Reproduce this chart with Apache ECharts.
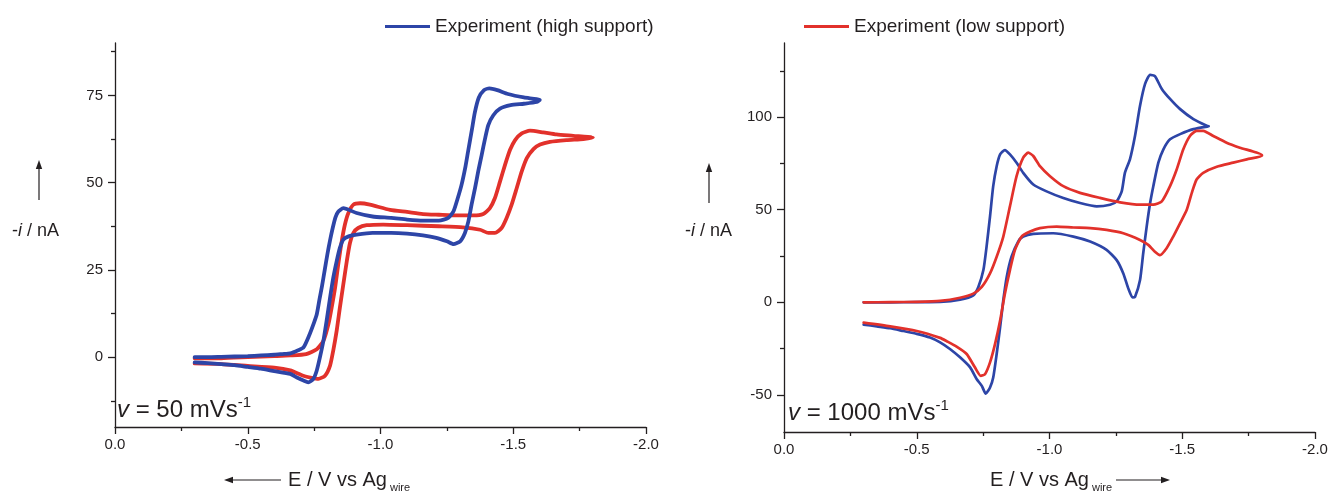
<!DOCTYPE html>
<html>
<head>
<meta charset="utf-8">
<script src="https://cdn.jsdelivr.net/npm/echarts@6/dist/echarts.min.js"></script>
<style>
  html, body { margin: 0; padding: 0; background: #ffffff; }
  #chart { width: 1330px; height: 496px; }
</style>
</head>
<body>
<div id="chart"></div>
<script>
// ---- Cyclic voltammograms: [E / V vs Ag wire, -i / nA] ----

// 50 mV/s, high support electrolyte
const highSupport50Forward = [
  [-0.30, 0.0], [-0.35, 0.0], [-0.40, 0.1], [-0.45, 0.2], [-0.50, 0.3], [-0.55, 0.5],
  [-0.60, 0.7], [-0.63, 0.9], [-0.66, 1.1], [-0.69, 2.0], [-0.71, 2.8], [-0.73, 6.0],
  [-0.75, 10.0], [-0.76, 12.3], [-0.77, 16.5], [-0.78, 20.5], [-0.79, 25.0], [-0.80, 29.5],
  [-0.81, 33.5], [-0.82, 37.0], [-0.83, 40.0], [-0.84, 41.6], [-0.86, 42.7], [-0.91, 41.3],
  [-0.97, 40.3], [-1.04, 39.9], [-1.10, 39.4], [-1.16, 39.1], [-1.22, 39.1], [-1.255, 39.9],
  [-1.275, 41.8], [-1.29, 45.3], [-1.305, 49.3], [-1.32, 54.6], [-1.33, 59.0], [-1.345, 65.5],
  [-1.355, 70.0], [-1.37, 74.3], [-1.39, 76.5], [-1.41, 77.0], [-1.44, 76.5], [-1.48, 75.4],
  [-1.54, 74.4], [-1.60, 73.7]
];
const highSupport50Reverse = [
  [-1.60, 73.5], [-1.588, 73.1], [-1.54, 72.6], [-1.49, 72.2], [-1.45, 71.2], [-1.425, 69.3],
  [-1.406, 66.5], [-1.394, 62.7], [-1.381, 57.9], [-1.368, 53.2], [-1.356, 48.4], [-1.343, 43.7],
  [-1.331, 38.9], [-1.318, 35.6], [-1.30, 33.2], [-1.275, 32.4], [-1.25, 33.2], [-1.21, 34.2],
  [-1.16, 34.9], [-1.10, 35.4], [-1.04, 35.6], [-0.97, 35.6], [-0.91, 35.1], [-0.88, 34.6],
  [-0.86, 33.7], [-0.847, 31.3], [-0.835, 27.5], [-0.822, 22.7], [-0.81, 17.0], [-0.797, 10.4],
  [-0.785, 4.7], [-0.772, 0.0], [-0.76, -3.8], [-0.747, -6.2], [-0.728, -7.2], [-0.71, -6.7],
  [-0.685, -5.8], [-0.66, -4.8], [-0.60, -4.0], [-0.55, -3.3], [-0.50, -2.8], [-0.45, -2.3],
  [-0.40, -2.0], [-0.35, -1.7], [-0.30, -1.5]
];

// 50 mV/s, low support electrolyte
const lowSupport50Forward = [
  [-0.30, -0.3], [-0.40, -0.3], [-0.50, 0.0], [-0.60, 0.3], [-0.66, 0.5], [-0.72, 0.9],
  [-0.76, 2.3], [-0.785, 4.7], [-0.804, 9.5], [-0.816, 14.2], [-0.829, 19.9], [-0.841, 26.6],
  [-0.854, 33.2], [-0.866, 38.0], [-0.879, 41.3], [-0.898, 43.7], [-0.923, 44.1], [-0.96, 43.7],
  [-1.036, 42.2], [-1.10, 41.6], [-1.16, 41.0], [-1.22, 40.8], [-1.29, 40.6], [-1.35, 40.6],
  [-1.387, 41.0], [-1.412, 42.7], [-1.431, 45.6], [-1.45, 50.3], [-1.469, 55.1], [-1.488, 59.4],
  [-1.507, 62.2], [-1.532, 64.1], [-1.563, 64.9], [-1.613, 64.4], [-1.663, 63.8], [-1.726, 63.4],
  [-1.80, 62.9]
];
const lowSupport50Reverse = [
  [-1.80, 62.7], [-1.764, 62.5], [-1.70, 62.2], [-1.638, 61.7], [-1.601, 60.9], [-1.576, 59.6],
  [-1.551, 57.0], [-1.532, 53.2], [-1.513, 48.4], [-1.494, 43.7], [-1.475, 39.9], [-1.456, 37.0],
  [-1.431, 35.6], [-1.406, 35.6], [-1.375, 36.5], [-1.31, 37.2], [-1.22, 37.5], [-1.10, 37.8],
  [-1.01, 38.0], [-0.948, 37.8], [-0.916, 37.0], [-0.898, 35.6], [-0.885, 32.7], [-0.873, 27.5],
  [-0.86, 20.9], [-0.847, 14.2], [-0.835, 7.6], [-0.822, 1.9], [-0.81, -2.4], [-0.791, -5.3],
  [-0.766, -6.2], [-0.741, -5.9], [-0.709, -5.3], [-0.66, -3.8], [-0.60, -3.0], [-0.50, -2.5],
  [-0.40, -2.0], [-0.30, -1.8]
];

// 1000 mV/s, high support electrolyte
const highSupport1000Forward = [
  [-0.30, 0.0], [-0.40, 0.0], [-0.50, 0.1], [-0.588, 0.2], [-0.663, 1.4], [-0.713, 3.8],
  [-0.732, 8.3], [-0.751, 17.4], [-0.763, 30.1], [-0.776, 46.4], [-0.788, 62.7], [-0.801, 73.5],
  [-0.814, 79.9], [-0.832, 82.2], [-0.851, 79.9], [-0.876, 75.4], [-0.901, 69.9], [-0.939, 63.6],
  [-0.989, 59.9], [-1.052, 56.3], [-1.115, 53.6], [-1.178, 51.8], [-1.228, 52.7], [-1.253, 54.5],
  [-1.272, 59.9], [-1.284, 69.9], [-1.303, 77.2], [-1.322, 89.8], [-1.341, 106.1], [-1.36, 117.9],
  [-1.379, 122.8], [-1.397, 122.1], [-1.423, 115.2], [-1.454, 109.8], [-1.492, 104.3],
  [-1.542, 98.9], [-1.592, 95.3], [-1.60, 95.0]
];
const highSupport1000Reverse = [
  [-1.60, 94.8], [-1.542, 93.5], [-1.492, 90.8], [-1.454, 88.0], [-1.429, 82.6], [-1.41, 75.4],
  [-1.391, 62.7], [-1.379, 53.6], [-1.366, 40.9], [-1.353, 26.5], [-1.341, 12.0], [-1.322, 2.9],
  [-1.313, 2.6], [-1.297, 7.4], [-1.278, 15.6], [-1.253, 22.8], [-1.215, 28.3], [-1.153, 32.8],
  [-1.09, 35.5], [-1.014, 37.3], [-0.939, 37.0], [-0.901, 35.5], [-0.882, 32.8], [-0.857, 24.6],
  [-0.839, 13.8], [-0.826, 1.1], [-0.814, -13.4], [-0.801, -27.9], [-0.788, -40.6], [-0.776, -46.0],
  [-0.76, -49.3], [-0.745, -45.1], [-0.726, -41.5], [-0.701, -35.1], [-0.663, -29.7], [-0.625, -25.2],
  [-0.588, -21.6], [-0.55, -19.0], [-0.50, -17.0], [-0.45, -15.5], [-0.40, -14.0], [-0.35, -13.0],
  [-0.30, -12.0]
];

// 1000 mV/s, low support electrolyte
const lowSupport1000Forward = [
  [-0.30, 0.0], [-0.40, 0.1], [-0.50, 0.3], [-0.588, 0.8], [-0.663, 2.5], [-0.713, 4.7],
  [-0.745, 8.3], [-0.776, 15.6], [-0.801, 24.6], [-0.826, 35.5], [-0.851, 51.8], [-0.876, 68.1],
  [-0.901, 78.1], [-0.92, 80.8], [-0.939, 79.0], [-0.964, 73.5], [-1.002, 68.1], [-1.052, 62.7],
  [-1.115, 59.1], [-1.19, 56.4], [-1.266, 54.0], [-1.341, 52.7], [-1.391, 52.7], [-1.423, 54.5],
  [-1.454, 62.7], [-1.479, 71.7], [-1.504, 82.6], [-1.529, 89.8], [-1.554, 92.6], [-1.579, 92.6],
  [-1.617, 89.8], [-1.667, 86.2], [-1.717, 83.5], [-1.80, 79.5]
];
const lowSupport1000Reverse = [
  [-1.80, 79.0], [-1.743, 77.2], [-1.692, 75.4], [-1.63, 73.2], [-1.579, 69.9], [-1.554, 66.3],
  [-1.536, 59.1], [-1.517, 50.0], [-1.492, 42.8], [-1.466, 35.5], [-1.441, 29.2], [-1.416, 25.5],
  [-1.397, 27.3], [-1.372, 31.0], [-1.341, 33.7], [-1.278, 37.3], [-1.215, 39.1], [-1.153, 40.1],
  [-1.09, 40.4], [-1.027, 40.9], [-0.964, 40.1], [-0.927, 38.2], [-0.895, 35.5], [-0.87, 28.3],
  [-0.851, 17.4], [-0.832, 4.7], [-0.814, -9.8], [-0.795, -22.4], [-0.776, -32.4], [-0.757, -38.8],
  [-0.741, -39.7], [-0.719, -35.1], [-0.688, -27.9], [-0.65, -23.9], [-0.613, -21.0], [-0.588, -19.2],
  [-0.50, -15.5], [-0.40, -13.0], [-0.30, -11.0]
];

// ---- Axis ticks ----
const potentialRange = [-2.0, 0.0];
const currentRange50 = [-20, 90];
const currentMajor50 = [0, 25, 50, 75];
const currentMinor50 = [-12.5, 12.5, 37.5, 62.5, 87.5];
const currentRange1000 = [-70, 140];
const currentMajor1000 = [-50, 0, 50, 100];
const currentMinor1000 = [-25, 25, 75, 125];

const seriesNames = ['Experiment (high support)', 'Experiment (low support)'];

// ---- Styling ----
const FONT = '"Liberation Sans", Arial, Helvetica, sans-serif';
const INK = '#231f20';
const BLUE = '#2d45a7';
const RED = '#e2312b';

const chart = echarts.init(document.getElementById('chart'), null, { renderer: 'canvas' });

function xAxisFor(gridIndex) {
  return {
    type: 'value', gridIndex: gridIndex,
    min: potentialRange[0], max: potentialRange[1], interval: 0.5, inverse: true,
    axisLine: { show: true, onZero: false, lineStyle: { color: INK, width: 1.3 } },
    axisTick: { show: true, length: 7, lineStyle: { color: INK, width: 1.3 } },
    minorTick: { show: true, splitNumber: 2, length: 4, lineStyle: { color: INK, width: 1.3 } },
    splitLine: { show: false }, minorSplitLine: { show: false },
    axisLabel: { color: INK, fontFamily: FONT, fontSize: 15, margin: 10,
      formatter: function (v) { return v.toFixed(1); } }
  };
}
function yAxisMajor(gridIndex, range, majors) {
  return {
    type: 'value', gridIndex: gridIndex, min: range[0], max: range[1], position: 'left',
    axisLine: { show: true, onZero: false, lineStyle: { color: INK, width: 1.3 } },
    axisTick: { show: true, length: 7, customValues: majors, lineStyle: { color: INK, width: 1.3 } },
    axisLabel: { show: true, customValues: majors, color: INK, fontFamily: FONT, fontSize: 15, margin: 12 },
    splitLine: { show: false }
  };
}
function yAxisMinor(gridIndex, range, minors) {
  return {
    type: 'value', gridIndex: gridIndex, min: range[0], max: range[1], position: 'left',
    axisLine: { show: false },
    axisTick: { show: true, length: 4, customValues: minors, lineStyle: { color: INK, width: 1.3 } },
    axisLabel: { show: false },
    splitLine: { show: false }
  };
}
function curve(name, color, width, xi, yi, forward, reverse) {
  return {
    name: name, type: 'line', xAxisIndex: xi, yAxisIndex: yi,
    data: forward.concat(reverse), showSymbol: false, smooth: 0.2,
    lineStyle: { color: color, width: width, join: 'round', cap: 'round' },
    itemStyle: { color: color }, emphasis: { disabled: true }, animation: false
  };
}

// ---- Annotation text built from measured runs (sub/superscripts) ----
const measureCtx = document.createElement('canvas').getContext('2d');
function measure(str, size, italic) {
  measureCtx.font = (italic ? 'italic ' : '') + size + 'px ' + FONT;
  return measureCtx.measureText(str).width;
}
function textRun(x, baseline, pieces) {
  const out = [];
  let cx = x;
  pieces.forEach(function (p) {
    out.push({
      type: 'text', x: cx, y: baseline - (p.rise || 0) - 0.35 * p.size, silent: true,
      style: { text: p.t, fontSize: p.size, fontStyle: p.italic ? 'italic' : 'normal',
        fontFamily: FONT, fill: INK, align: 'left', verticalAlign: 'middle' }
    });
    cx += measure(p.t, p.size, p.italic);
  });
  return out;
}
function arrow(x1, y1, x2, y2) {
  const ang = Math.atan2(y2 - y1, x2 - x1), L = 9, W = 3.2;
  const bx = x2 - L * Math.cos(ang), by = y2 - L * Math.sin(ang);
  const nx = -Math.sin(ang), ny = Math.cos(ang);
  return [
    { type: 'line', silent: true, shape: { x1: x1, y1: y1, x2: bx, y2: by },
      style: { stroke: INK, lineWidth: 1.2 } },
    { type: 'polygon', silent: true,
      shape: { points: [[x2, y2], [bx + nx * W, by + ny * W], [bx - nx * W, by - ny * W]] },
      style: { fill: INK } }
  ];
}
function currentName(x, baseline) {
  return textRun(x, baseline, [
    { t: '-', size: 18 }, { t: 'i', size: 18, italic: true }, { t: ' / nA', size: 18 }
  ]);
}
function potentialName(x, baseline) {
  return textRun(x, baseline, [
    { t: 'E / V vs Ag', size: 20 }, { t: ' wire', size: 11, rise: -5 }
  ]);
}
function rateNote(x, baseline, rate) {
  return textRun(x, baseline, [
    { t: 'v', size: 24, italic: true }, { t: ' = ' + rate + ' mVs', size: 24 },
    { t: '-1', size: 15, rise: 11 }
  ]);
}

const graphics = [].concat(
  currentName(12, 237), arrow(39, 200, 39, 160),
  currentName(685, 237), arrow(709, 203, 709, 163),
  potentialName(288, 487), arrow(281, 480, 224, 480),
  potentialName(990, 487), arrow(1116, 480, 1170, 480),
  rateNote(117, 419, 50),
  rateNote(788, 422, 1000)
);

const legendBase = {
  icon: 'rect', itemWidth: 45, itemHeight: 3, top: 12, selectedMode: false,
  textStyle: { color: INK, fontFamily: FONT, fontSize: 19 }
};

chart.setOption({
  backgroundColor: '#ffffff',
  animation: false,
  textStyle: { fontFamily: FONT },
  legend: [
    Object.assign({}, legendBase, { left: 380, data: [seriesNames[0]] }),
    Object.assign({}, legendBase, { left: 799, data: [seriesNames[1]] })
  ],
  grid: [
    { left: 115, top: 43, width: 531, height: 384, outerBoundsMode: 'none' },
    { left: 784, top: 43, width: 531, height: 389, outerBoundsMode: 'none' }
  ],
  xAxis: [xAxisFor(0), xAxisFor(1)],
  yAxis: [
    yAxisMajor(0, currentRange50, currentMajor50),
    yAxisMinor(0, currentRange50, currentMinor50),
    yAxisMajor(1, currentRange1000, currentMajor1000),
    yAxisMinor(1, currentRange1000, currentMinor1000)
  ],
  series: [
    curve(seriesNames[1], RED, 3.8, 0, 0, lowSupport50Forward, lowSupport50Reverse),
    curve(seriesNames[0], BLUE, 3.8, 0, 0, highSupport50Forward, highSupport50Reverse),
    curve(seriesNames[0], BLUE, 2.7, 1, 2, highSupport1000Forward, highSupport1000Reverse),
    curve(seriesNames[1], RED, 2.7, 1, 2, lowSupport1000Forward, lowSupport1000Reverse)
  ],
  graphic: graphics
});
</script>
</body>
</html>
